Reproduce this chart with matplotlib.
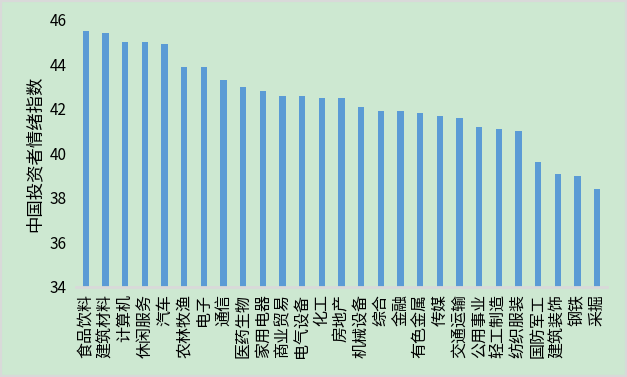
import matplotlib
matplotlib.use("Agg")
import matplotlib.pyplot as plt
from matplotlib.patches import Rectangle

plt.rcParams['font.family'] = ['Noto Sans CJK SC', 'DejaVu Sans']

# industry names and sentiment index values
industries = ['食品饮料', '建筑材料', '计算机', '休闲服务', '汽车', '农林牧渔', '电子',
              '通信', '医药生物', '家用电器', '商业贸易', '电气设备', '化工', '房地产',
              '机械设备', '综合', '金融', '有色金属', '传媒', '交通运输', '公用事业',
              '轻工制造', '纺织服装', '国防军工', '建筑装饰', '钢铁', '采掘']
values = [45.5, 45.4, 45.0, 45.0, 44.9, 43.9, 43.9,
          43.3, 43.0, 42.8, 42.6, 42.6, 42.5, 42.5,
          42.1, 41.9, 41.9, 41.8, 41.7, 41.6, 41.2,
          41.1, 41.0, 39.6, 39.1, 39.0, 38.4]
yticks = [34, 36, 38, 40, 42, 44, 46]

bg = '#cde8d1'
W, H = 627, 377
fig = plt.figure(figsize=(W / 100, H / 100), dpi=100, facecolor=bg)
# gray outer frame
fig.patches.append(Rectangle((0, 0), 1, 1, transform=fig.transFigure,
                             fill=False, edgecolor='#d9d9d9', linewidth=3))

ax = fig.add_axes([76 / W, (H - 287) / H, (607 - 76) / W, (287 - 20) / H])
ax.set_facecolor(bg)

x = range(len(industries))
ax.bar(x, values, width=0.31, color='#5b9bd5', bottom=0)

ax.set_ylim(34, 46)
ax.set_xlim(-0.5, len(industries) - 0.5)
ax.set_yticks(yticks)
ax.set_yticklabels([str(v) for v in yticks], fontsize=11)
ax.set_xticks(list(x))
ax.set_xticklabels(industries, rotation=90, fontsize=11.5, va='top')
ax.tick_params(axis='both', length=0)
ax.tick_params(axis='x', pad=5)
ax.tick_params(axis='y', pad=7)

for s in ['top', 'right', 'left']:
    ax.spines[s].set_visible(False)
ax.spines['bottom'].set_color('#d9d9d9')
ax.spines['bottom'].set_linewidth(2)

ax.set_ylabel('中国投资者情绪指数', fontsize=12.5, labelpad=4)

fig.savefig('out.png', dpi=100, facecolor=bg)
